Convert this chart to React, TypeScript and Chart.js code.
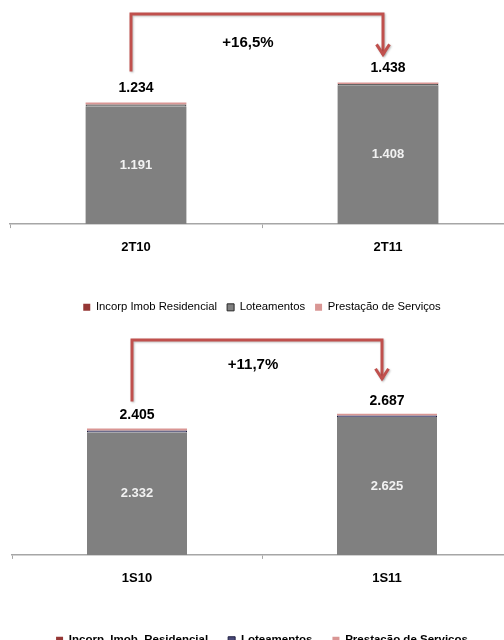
import { useEffect, useRef } from 'react';
import { Chart, registerables } from 'chart.js';
Chart.register(...registerables);

// ---------- data ----------
const catsTop = ['2T10', '2T11'];
const namesTop = ['Incorp Imob Residencial', 'Loteamentos', 'Prestação de Serviços'];
const incorpTop = [1191, 1408];
const loteTop = [22, 14];
const prestTop = [21, 16];
const totalsTop = [1234, 1438];
const growthTop = '+16,5%';

const catsBot = ['1S10', '1S11'];
const namesBot = ['Incorp. Imob. Residencial', 'Loteamentos', 'Prestação de Serviços'];
const incorpBot = [2332, 2625];
const loteBot = [35, 28];
const prestBot = [38, 34];
const totalsBot = [2405, 2687];
const growthBot = '+11,7%';

const FONT = "'Liberation Sans', Arial, sans-serif";

const fmt = (v: number) => {
  const s = Math.round(v).toString();
  return s.replace(/\B(?=(\d{3})+(?!\d))/g, '.');
};

const overlay = {
  id: 'overlay',
  afterDatasetsDraw(chart: any, _args: any, o: any) {
    const ctx = chart.ctx;
    const m0 = chart.getDatasetMeta(0);
    const mTop = chart.getDatasetMeta(chart.data.datasets.length - 1);
    ctx.save();
    ctx.textAlign = 'center';
    ctx.textBaseline = 'middle';
    // inner labels
    ctx.font = `bold 13px ${FONT}`;
    ctx.fillStyle = '#f2f2f2';
    m0.data.forEach((bar: any, i: number) => {
      const p = bar.getProps(['x', 'y', 'base'], true);
      ctx.fillText(fmt(o.inner[i]), p.x, (p.y + p.base) / 2);
    });
    // totals
    ctx.font = `bold 14px ${FONT}`;
    ctx.fillStyle = '#000';
    const tops: number[] = [];
    const xs: number[] = [];
    mTop.data.forEach((bar: any, i: number) => {
      const p = bar.getProps(['x', 'y'], true);
      tops.push(p.y);
      xs.push(p.x);
      ctx.fillText(fmt(o.totals[i]), p.x, p.y - o.labelGap);
    });
    // arrow
    const x0 = xs[0] - 5;
    const x1 = xs[1] - 5;
    const yS = tops[0] - o.startGap;
    const yH = chart.chartArea.top + o.hY;
    const yT = tops[1] - o.tipGap;
    ctx.strokeStyle = '#C0504D';
    ctx.lineWidth = 3;
    ctx.lineJoin = 'miter';
    ctx.shadowColor = 'rgba(0,0,0,0.25)';
    ctx.shadowBlur = 2;
    ctx.shadowOffsetX = 1;
    ctx.shadowOffsetY = 1;
    ctx.beginPath();
    ctx.moveTo(x0, yS);
    ctx.lineTo(x0, yH);
    ctx.lineTo(x1, yH);
    ctx.lineTo(x1, yT - 1);
    ctx.stroke();
    ctx.beginPath();
    ctx.moveTo(x1 - 6.5, yT - 11);
    ctx.lineTo(x1, yT - 1);
    ctx.lineTo(x1 + 6.5, yT - 11);
    ctx.stroke();
    ctx.shadowColor = 'transparent';
    ctx.font = `bold 15px ${FONT}`;
    ctx.fillStyle = '#000';
    ctx.fillText(o.growth, (x0 + x1) / 2 + o.growthDx, yH + o.growthDy);
    ctx.restore();
  },
};

function buildConfig(p: any) {
  return {
    type: 'bar',
    data: {
      labels: p.cats,
      datasets: [
        { label: p.names[0], data: p.incorp, backgroundColor: '#808080', borderWidth: 0 },
        { label: p.names[1], data: p.lote, backgroundColor: p.loteFill, borderColor: p.loteStroke, borderWidth: 1 },
        { label: p.names[2], data: p.prest, backgroundColor: '#D99694', borderWidth: 0 },
      ],
    },
    plugins: [overlay],
    options: {
      animation: false,
      responsive: false,
      maintainAspectRatio: false,
      layout: { padding: { left: p.padLeft, right: 0, top: 0, bottom: 0 } },
      datasets: { bar: { categoryPercentage: 1, barPercentage: 0.4 } },
      scales: {
        x: {
          stacked: true,
          grid: { display: true, drawOnChartArea: false, drawTicks: true, tickLength: 4, color: '#a6a6a6', offset: true },
          border: { display: true, color: '#a6a6a6', width: 1.5 },
          ticks: { color: '#000', font: { family: FONT, size: 13, weight: 'bold' }, padding: p.tickPad },
          afterFit: (s: any) => { s.height += p.extra; },
        },
        y: { stacked: true, display: false, min: 0, max: p.yMax },
      },
      plugins: {
        tooltip: { enabled: false },
        legend: {
          display: true,
          position: 'bottom',
          labels: {
            boxWidth: 7,
            boxHeight: 7,
            padding: p.legendPad,
            color: '#000',
            font: { family: FONT, size: p.legendSize, weight: p.legendWeight },
            generateLabels: (chart: any) =>
              chart.data.datasets.map((ds: any, i: number) => ({
                text: ds.label,
                fillStyle: p.legendFill[i],
                strokeStyle: p.legendStroke[i],
                lineWidth: p.legendLineW[i],
                hidden: false,
                datasetIndex: i,
                fontColor: '#000',
              })),
          },
        },
        overlay: p.overlay,
      },
    },
  };
}

function ChartBox({ params, width, height, top }: any) {
  const ref = useRef<HTMLCanvasElement>(null);
  useEffect(() => {
    const c = new Chart(ref.current as any, buildConfig(params) as any);
    return () => c.destroy();
  }, []);
  return (
    <div style={{ position: 'absolute', left: 0, top, width, height }}>
      <canvas ref={ref} width={width} height={height} style={{ width, height, display: 'block' }} />
    </div>
  );
}

export default function App() {
  useEffect(() => {
    document.body.style.margin = '0';
  }, []);
  const topParams = {
    cats: catsTop, names: namesTop, incorp: incorpTop, lote: loteTop, prest: prestTop,
    loteFill: '#808080', loteStroke: '#262626',
    padLeft: 10, tickPad: 12, extra: 24, yMax: 2274,
    legendPad: 10, legendSize: 11.3, legendWeight: 'normal',
    legendFill: ['#953735', '#808080', '#D99694'],
    legendStroke: ['#953735', '#262626', '#D99694'],
    legendLineW: [0, 1, 0],
    overlay: { inner: incorpTop, totals: totalsTop, growth: growthTop, labelGap: 14, startGap: 31, hY: 14, tipGap: 27, growthDx: -9, growthDy: 29 },
  };
  const botParams = {
    cats: catsBot, names: namesBot, incorp: incorpBot, lote: loteBot, prest: prestBot,
    loteFill: '#4a4a78', loteStroke: '#1f1f40',
    padLeft: 12, tickPad: 12, extra: 16, yMax: 4414,
    legendPad: 20, legendSize: 11.5, legendWeight: 'bold',
    legendFill: ['#953735', '#4a4a78', '#D99694'],
    legendStroke: ['#953735', '#1f1f40', '#D99694'],
    legendLineW: [0, 1, 0],
    overlay: { inner: incorpBot, totals: totalsBot, growth: growthBot, labelGap: 13, startGap: 27, hY: 17, tipGap: 34, growthDx: -4, growthDy: 25 },
  };
  return (
    <div style={{ position: 'relative', width: 504, height: 640, overflow: 'hidden', background: '#fff' }}>
      <ChartBox params={topParams} width={514} height={323} top={0} />
      <ChartBox params={botParams} width={512} height={333} top={323} />
    </div>
  );
}
